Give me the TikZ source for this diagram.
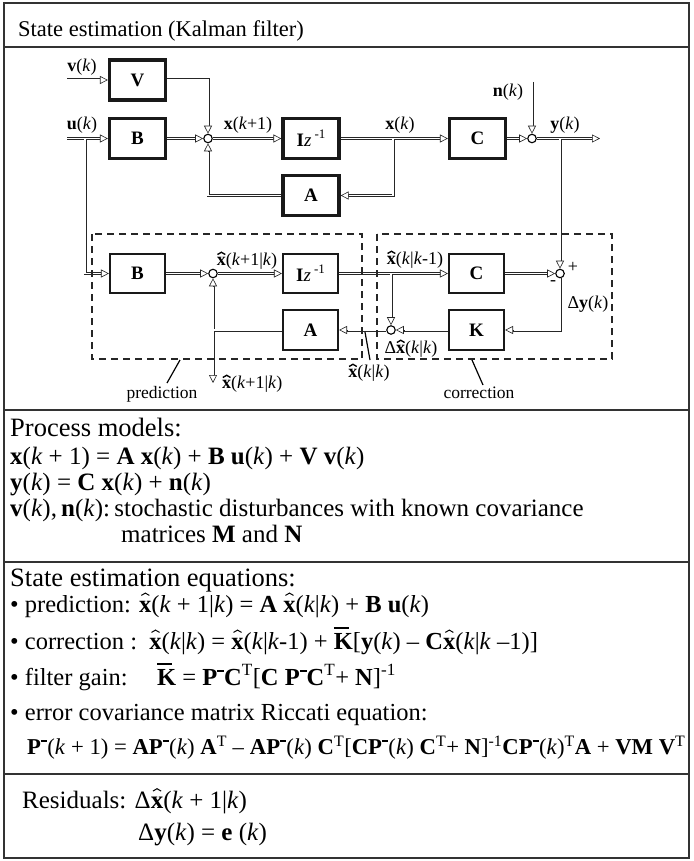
\documentclass[tikz,border=0pt]{standalone}
\usepackage{fontspec}
\setmainfont{Liberation Serif}
\usetikzlibrary{arrows.meta,calc}
\pgfdeclarelayer{bg}
\pgfsetlayers{bg,main}
\newcommand\fs[1]{\fontsize{#1}{#1}\selectfont}
\newcommand\bv[1]{\textbf{#1}}
\newcommand\kk{\textit{k}}
% drawn hat: #1 arm length, #2 thickness, #3 raise, #4 angle
\newcommand\mkhat[4]{\raisebox{#3}{\rotatebox{#4}{\rule{#1}{#2}}\kern-#2\raisebox{\dimexpr #1*\numexpr #4\relax/60\relax}{\rotatebox{-#4}{\rule{#1}{#2}}}}}
\newcommand\hx{\ooalign{\textbf{x}\cr\hidewidth\mkhat{0.27em}{0.075em}{0.55em}{30}\hidewidth\cr}}
\newcommand\xh{\ooalign{\textbf{x}\cr\hidewidth\mkhat{0.2em}{0.04em}{0.66em}{30}\hidewidth\cr}}
\newcommand\Kb{\ooalign{\textbf{K}\cr\rule[0.8em]{0.62em}{0.1em}\hidewidth\cr}}
\newcommand\Pm{\textbf{P}\raisebox{0.52em}{\rule{0.28em}{0.08em}}}
\newcommand\sT{\textsuperscript{T}}
\newcommand\Izi{\textbf{I}\textmd{\textit{z}}\,\raisebox{0.42em}{\mdseries\fs{13}-1}}
\newcommand\tipR[1]{\draw[tipa] ($(#1)+(-8,0)$) -- (#1);}
\newcommand\tipL[1]{\draw[tipa] ($(#1)+(8,0)$) -- (#1);}
\newcommand\tipD[1]{\draw[tipa] ($(#1)+(0,-8)$) -- (#1);}
\newcommand\tipU[1]{\draw[tipa] ($(#1)+(0,8)$) -- (#1);}
\begin{document}
\begin{tikzpicture}[x=1pt,y=-1pt,
  frame/.style={draw=black!80, line width=1.4pt},
  bT/.style={draw=black!90, fill=white, line width=3.2pt, minimum width=56pt, minimum height=40pt, inner sep=0pt, font=\fs{19}\bfseries},
  bN/.style={draw=black!90, fill=white, line width=1.6pt, minimum width=55.5pt, minimum height=39.5pt, inner sep=0pt, font=\fs{19}\bfseries},
  sumn/.style={circle, draw=black, fill=white, line width=1.1pt, minimum size=8.5pt, inner sep=0pt},
  sig/.style={draw=black!85, line width=0.6pt, double=white, double distance=1.8pt},
  tipa/.style={-{Triangle[length=8pt,width=8pt,fill=white]}, line width=0.6pt, draw=black!85},
  lab/.style={inner sep=0pt, font=\fs{18}},
  dbox/.style={draw=black!85, line width=1.5pt, dash pattern=on 7pt off 5pt},
  ptr/.style={draw=black, line width=1.2pt},
  txt/.style={anchor=base west, inner sep=0pt, font=\fs{25}},
]
\useasboundingbox (0,0) rectangle (693,861);

% frame
\draw[frame] (4,3) rectangle (689,858);
\draw[frame] (4,47) -- (689,47);
\draw[frame] (4,410) -- (689,410);
\draw[frame] (4,562) -- (689,562);
\draw[frame] (4,774) -- (689,774);
\node[anchor=base west, inner sep=0pt, font=\fs{22.5}] (title) at (18,37) {State estimation (Kalman filter)};

% blocks
\node[bT] (V) at (137.5,80) {V};
\node[bT] (B1) at (137.5,138.5) {B};
\node[bT] (Z1) at (311,138.5) {\Izi};
\node[bT] (A1) at (311,195.5) {A};
\node[bT] (C1) at (477.5,138.5) {C};
\node[bN] (B2) at (137.5,273.5) {B};
\node[bN] (Z2) at (310.5,273.5) {\Izi};
\node[bN] (A2) at (310.5,330) {A};
\node[bN] (C2) at (476.5,273.5) {C};
\node[bN] (K) at (476.5,330) {K};

\node[sumn] (S1) at (208,138.5) {};
\node[sumn] (S2) at (532,138.5) {};
\node[sumn] (S3) at (213,273.5) {};
\node[sumn] (S4) at (560,273.5) {};
\node[sumn] (S5) at (391,330) {};

\coordinate (vin) at (67,80);
\coordinate (uin) at (67,138.5);
\coordinate (ub) at (85,138.5);
\coordinate (xb) at (393,138.5);
\coordinate (nin) at (532,82);
\coordinate (yb) at (560,138.5);
\coordinate (yout) at (600,138.5);
\coordinate (xb2) at (391,273.5);
\coordinate (pj) at (213,330);
\coordinate (xo) at (213,383);

\begin{pgfonlayer}{bg}
\draw[sig]
 (vin) -- ($(V.west)+(-7,0)$)
 (uin) -- ($(B1.west)+(-7,0)$)
 (ub) |- ($(B2.west)+(-7,0)$)
 (V.east) -| ($(S1.north)+(0,-7)$)
 (B1.east) -- ($(S1.west)+(-7,0)$)
 (A1.west) -| ($(S1.south)+(0,7)$)
 (S1.east) -- ($(Z1.west)+(-7,0)$)
 (Z1.east) -- ($(C1.west)+(-7,0)$)
 (xb) |- ($(A1.east)+(7,0)$)
 (C1.east) -- ($(S2.west)+(-7,0)$)
 (nin) -- ($(S2.north)+(0,-7)$)
 (S2.east) -- ($(yout)+(-7,0)$)
 (yb) -- ($(S4.north)+(0,-7)$)
 (B2.east) -- ($(S3.west)+(-7,0)$)
 (S3.east) -- ($(Z2.west)+(-7,0)$)
 (Z2.east) -- ($(C2.west)+(-7,0)$)
 (xb2) -- ($(S5.north)+(0,-7)$)
 (C2.east) -- ($(S4.west)+(-7,0)$)
 (S4.south) |- ($(K.east)+(7,0)$)
 (K.west) -- ($(S5.east)+(7,0)$)
 (S5.west) -- ($(A2.east)+(7,0)$)
 (A2.west) -- (pj)
 ($(S3.south)+(0,7)$) -- ($(xo)+(0,-7)$);
\tipR{V.west}
\tipR{B1.west}
\tipR{B2.west}
\tipD{S1.north}
\tipR{S1.west}
\tipU{S1.south}
\tipR{Z1.west}
\tipR{C1.west}
\tipL{A1.east}
\tipR{S2.west}
\tipD{S2.north}
\tipR{yout}
\tipD{S4.north}
\tipR{S3.west}
\tipR{Z2.west}
\tipR{C2.west}
\tipD{S5.north}
\tipR{S4.west}
\tipL{K.east}
\tipL{S5.east}
\tipL{A2.east}
\tipU{S3.south}
\tipD{xo}
\end{pgfonlayer}

% dashed regions
\draw[dbox] (92,234) rectangle (362,359);
\draw[dbox] (377,234) rectangle (612,359);

% labels
\node[lab, anchor=base] (lv) at (82,72) {\bv{v}(\kk)};
\node[lab, anchor=base] (lu) at (82,130) {\bv{u}(\kk)};
\node[lab, anchor=base] (lx1) at (248,130) {\bv{x}(\kk+1)};
\node[lab, anchor=base] (lx) at (400,130) {\bv{x}(\kk)};
\node[lab, anchor=base] (ln) at (508,97) {\bv{n}(\kk)};
\node[lab, anchor=base] (ly) at (565,130) {\bv{y}(\kk)};
\node[lab, anchor=base] (lxp) at (247,265) {\hx(\kk+1|\kk)};
\node[lab, anchor=base] (lxc) at (415,264) {\hx(\kk|\kk-1)};
\node[lab, anchor=base west] (lxo) at (222,388) {\hx(\kk+1|\kk)};
\node[lab, anchor=base] (lxk) at (369,377) {\hx(\kk|\kk)};
\node[lab, anchor=base] (ldx) at (411,353) {Δ\hx(\kk|\kk)};
\node[lab, anchor=base] (ldy) at (588,308) {Δ\bv{y}(\kk)};
\node[lab] (plus) at (573,267) {+};
\node[lab] (minus) at (553,283) {-};
\node[lab, anchor=base, font=\fs{17.5}] (lpred) at (162,398) {prediction};
\node[lab, anchor=base, font=\fs{17.5}] (lcorr) at (479,398) {correction};
\draw[ptr] (180,360) -- (167,383);
\draw[ptr] (472,360) -- (483,385);
\draw[ptr] (365,332) -- (370,360);

% process models
\node[txt, font=\fs{26.5}] (pm) at (10,436) {Process models:};
\node[txt] (pm1) at (10,464) {\bv{x}(\kk{} + 1) = \bv{A} \bv{x}(\kk) + \bv{B} \bv{u}(\kk) + \bv{V} \bv{v}(\kk)};
\node[txt] (pm2) at (10,490) {\bv{y}(\kk) = \bv{C} \bv{x}(\kk) + \bv{n}(\kk)};
\node[txt] (pm3) at (10,516) {\bv{v}(\kk),\,\bv{n}(\kk):\,stochastic disturbances with known covariance};
\node[txt] (pm4) at (121,542) {matrices \bv{M} and \bv{N}};

% state estimation equations
\node[txt, font=\fs{26.5}] (se) at (10,586) {State estimation equations:};
\node[txt, font=\fs{24.5}] (se1) at (10,612) {• prediction: \xh(\kk{} + 1|\kk) = \bv{A} \xh(\kk|\kk) + \bv{B} \bv{u}(\kk)};
\node[txt, font=\fs{24.5}] (se2) at (10,649) {• correction :\ \ \xh(\kk|\kk) = \xh(\kk|\kk-1) + \Kb[\bv{y}(\kk) – \bv{C}\xh(\kk|\kk{} –1)]};
\node[txt, font=\fs{24.5}] (se3) at (10,685) {• filter gain:};
\node[txt, font=\fs{24.5}] (se3b) at (157,685) {\Kb{} = \Pm\bv{C}\sT[\bv{C} \Pm\bv{C}\sT+ \bv{N}]\textsuperscript{-1}};
\node[txt, font=\fs{24.5}] (se4) at (10,720) {• error covariance matrix Riccati equation:};
\node[txt, font=\fs{22.7}] (se5) at (27,754) {\Pm(\kk{} + 1) = \bv{A}\Pm(\kk) \bv{A}\sT{} – \bv{A}\Pm(\kk) \bv{C}\sT[\bv{C}\Pm(\kk) \bv{C}\sT+ \bv{N}]\textsuperscript{-1}\bv{C}\Pm(\kk)\sT\bv{A} + \bv{VM} \bv{V}\sT};

% residuals
\node[txt] (r1) at (22,808) {Residuals: Δ\xh(\kk{} + 1|\kk)};
\node[txt] (r2) at (138,840) {Δ\bv{y}(\kk) = \bv{e} (\kk)};
\end{tikzpicture}
\end{document}
